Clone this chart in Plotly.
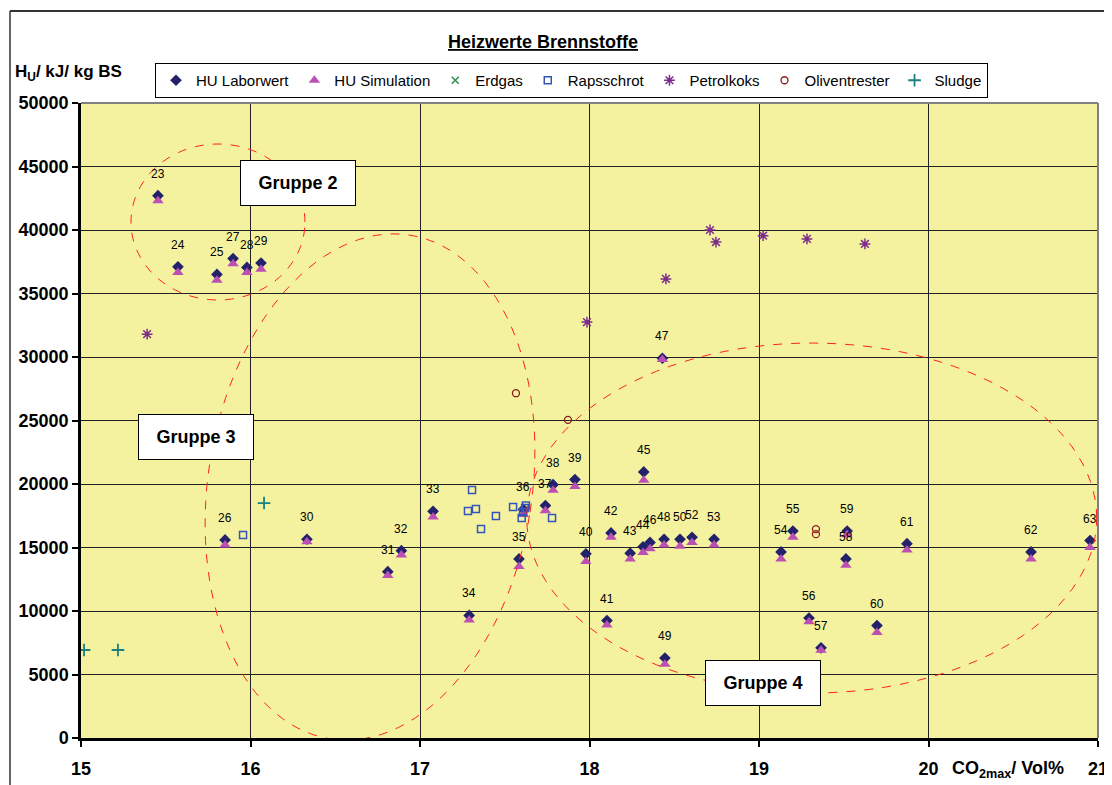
import numpy as np
import plotly.graph_objects as go

# ---------------- data ----------------
labels = ["23", "24", "25", "26", "27", "28", "29", "30", "31", "32", "33", "34", "35", "36",
          "37", "38", "39", "40", "41", "42", "43", "44", "45", "46", "47", "48", "49", "50",
          "52", "53", "54", "55", "56", "57", "58", "59", "60", "61", "62", "63"]
co2 = [15.454, 15.572, 15.802, 15.85, 15.897, 15.979, 16.062, 16.333, 16.81, 16.89, 17.077, 17.29,
       17.584, 17.61, 17.74, 17.785, 17.914, 17.979, 18.103, 18.127, 18.24, 18.316, 18.32, 18.357,
       18.43, 18.44, 18.445, 18.534, 18.605, 18.735, 19.13, 19.2, 19.295, 19.366, 19.513, 19.52,
       19.696, 19.873, 20.605, 20.953]
hu_labor = [42700, 37100, 36500, 15600, 37750, 37050, 37400, 15650, 13100, 14750, 17850, 9650,
            14100, 18000, 18300, 19950, 20350, 14500, 9250, 16150, 14550, 15050, 20950, 15400,
            29900, 15650, 6300, 15650, 15800, 15650, 14650, 16300, 9450, 7100, 14100, 16300,
            8850, 15300, 14650, 15550]
hu_sim = [42300, 36650, 36050, 15200, 37350, 36650, 36900, 15450, 12800, 14400, 17400, 9300,
          13500, 17600, 17900, 19500, 19800, 13900, 8900, 15800, 14100, 14600, 20300, 14900,
          29800, 15200, 5800, 15100, 15400, 15200, 14100, 15800, 9150, 6900, 13600, 16000,
          8300, 14800, 14100, 15000]

erdgas_x, erdgas_y = [None], [None]
raps_x = [15.956, 17.283, 17.307, 17.33, 17.36, 17.448, 17.549, 17.60, 17.608, 17.62, 17.625, 17.779]
raps_y = [15980, 17870, 19530, 18030, 16460, 17480, 18190, 17320, 17800, 18110, 18300, 17320]
petrol_x = [15.39, 17.985, 18.451, 18.711, 18.746, 19.024, 19.283, 19.625]
petrol_y = [31800, 32750, 36150, 40000, 39050, 39550, 39300, 38900]
oliv_x = [17.566, 17.873, 19.336, 19.336]
oliv_y = [27150, 25050, 16450, 16050]
sludge_x = [15.018, 15.218, 16.08]
sludge_y = [6930, 6930, 18500]

# groups: name, label position, ellipse centre (data), semi axes (px), rotation (deg)
groups = [
    ("Gruppe 2", (16.28, 43700), (15.808, 40630), (87, 78), 0),
    ("Gruppe 3", (15.678, 23700), (16.705, 19764), (162, 255), 9),
    ("Gruppe 4", (19.024, 4330), (19.311, 17320), (285, 175), 0),
]

# ---------------- layout geometry ----------------
OFF = 8                      # page offset of the figure (body margin)
W, H = 1112 - OFF, 785 - OFF
PL, PR, PT, PB = 81, 1098, 103, 738   # plot area in page pixels
ML, MT = PL - OFF, PT - OFF
MR = W - (PR - OFF)
MB = H - (PB - OFF)
X0, X1, Y0, Y1 = 15, 21, 0, 50000
PW, PH = PR - PL, PB - PT
PXU = PW / (X1 - X0)
PYU = PH / (Y1 - Y0)

FONT = "Liberation Sans, Arial, sans-serif"


def px2paper(px, py):
    return (px - PL) / PW, (PB - py) / PH


def ellipse_path(c, axes, rot):
    cx, cy = c
    bx, by = axes
    th = np.deg2rad(rot)
    t = np.linspace(0, 2 * np.pi, 121)
    ex = bx * np.cos(t)
    ey = by * np.sin(t)
    rx = ex * np.cos(th) + ey * np.sin(th)
    ry = -ex * np.sin(th) + ey * np.cos(th)
    xs = cx + rx / PXU
    ys = cy + ry / PYU
    pts = [f"{x:.5f},{y:.2f}" for x, y in zip(xs, ys)]
    return "M " + " L ".join(pts) + " Z"


fig = go.Figure()

fig.add_trace(go.Scatter(
    x=co2, y=hu_labor, mode="markers", name="HU Laborwert",
    marker=dict(symbol="diamond", size=9, color="#22226A"),
))
fig.add_trace(go.Scatter(
    x=co2, y=hu_sim, mode="markers", name="HU Simulation",
    marker=dict(symbol="triangle-up", size=10, color="#BC4FB4"),
))
fig.add_trace(go.Scatter(
    x=erdgas_x, y=erdgas_y, mode="markers", name="Erdgas",
    marker=dict(symbol="x-thin-open", size=7, color="#2E8B57", line=dict(width=1.5, color="#2E8B57")),
))
fig.add_trace(go.Scatter(
    x=raps_x, y=raps_y, mode="markers", name="Rapsschrot",
    marker=dict(symbol="square-open", size=7, color="#3355BB", line=dict(width=1.5)),
))
fig.add_trace(go.Scatter(
    x=petrol_x, y=petrol_y, mode="markers", name="Petrolkoks",
    marker=dict(symbol="asterisk-open", size=9, color="#7B2C8B", line=dict(width=1.5, color="#7B2C8B")),
))
fig.add_trace(go.Scatter(
    x=oliv_x, y=oliv_y, mode="markers", name="Oliventrester",
    marker=dict(symbol="circle-open", size=7, color="#8B1A1A", line=dict(width=1.3)),
))
fig.add_trace(go.Scatter(
    x=sludge_x, y=sludge_y, mode="markers", name="Sludge",
    marker=dict(symbol="cross-thin-open", size=9, color="#1A8080", line=dict(width=1.8, color="#1A8080")),
))

annotations = []
for lb, xv, yv in zip(labels, co2, hu_labor):
    annotations.append(dict(x=xv, y=yv, text=lb, showarrow=False, yshift=22,
                            font=dict(family=FONT, size=12, color="black")))

shapes = []
for name, lpos, c, axes, rot in groups:
    shapes.append(dict(type="path", path=ellipse_path(c, axes, rot), xref="x", yref="y",
                       line=dict(color="#FF2020", width=1, dash="dash"), layer="above"))
    annotations.append(dict(x=lpos[0], y=lpos[1], text=f"<b>{name}</b>", showarrow=False,
                            bgcolor="white", bordercolor="black", borderwidth=1,
                            width=112, height=42, borderpad=1,
                            font=dict(family=FONT, size=18, color="black")))

# title and axis titles
tx, ty = px2paper(543, 42)
annotations.append(dict(xref="paper", yref="paper", x=tx, y=ty, xanchor="center", yanchor="middle",
                        text="<b><u>Heizwerte Brennstoffe</u></b>",
                        showarrow=False, font=dict(family=FONT, size=18, color="black")))
yx, yy = px2paper(13, 73)
annotations.append(dict(xref="paper", yref="paper", x=yx, y=yy, xanchor="left", yanchor="middle",
                        text="<b>H<sub>U</sub>/ kJ/ kg BS</b>", showarrow=False,
                        font=dict(family=FONT, size=17, color="black")))
xx, xy = px2paper(950, 769)
annotations.append(dict(xref="paper", yref="paper", x=xx, y=xy, xanchor="left", yanchor="middle",
                        text="<b>CO<sub>2max</sub>/ Vol%</b>", showarrow=False,
                        font=dict(family=FONT, size=18, color="black")))

# plot frame (gray top/right) and chart frame
p_l, p_t = px2paper(10, 11)
p_r, _ = px2paper(1109, 11)
_, p_b = px2paper(10, 800)
shapes += [
    dict(type="line", xref="paper", yref="paper", x0=0, x1=1, y0=1, y1=1, line=dict(color="#808080", width=2)),
    dict(type="line", xref="paper", yref="paper", x0=1, x1=1, y0=0, y1=1, line=dict(color="#808080", width=2)),
    dict(type="line", xref="paper", yref="paper", x0=p_l, x1=p_r, y0=p_t, y1=p_t, line=dict(color="#333333", width=2)),
    dict(type="line", xref="paper", yref="paper", x0=p_l, x1=p_l, y0=p_b, y1=p_t, line=dict(color="#333333", width=1.5)),
    dict(type="line", xref="paper", yref="paper", x0=p_r, x1=p_r, y0=p_b, y1=p_t, line=dict(color="#999999", width=1.5)),
]

lgx, lgy = px2paper(155, 63)

fig.update_layout(
    width=W, height=H,
    margin=dict(l=ML, r=MR, t=MT, b=MB, autoexpand=False),
    paper_bgcolor="white",
    plot_bgcolor="#F5F29F",
    font=dict(family=FONT, color="black"),
    showlegend=True,
    legend=dict(orientation="h", x=lgx, y=lgy, xanchor="left", yanchor="top",
                bgcolor="white", bordercolor="black", borderwidth=1,
                font=dict(family=FONT, size=15, color="black"),
                itemwidth=30, tracegroupgap=0),
    xaxis=dict(range=[X0, X1], dtick=1, tick0=15, showgrid=True, gridcolor="#222222", gridwidth=1,
               showline=True, linecolor="black", linewidth=2.5, ticks="outside", ticklen=6,
               tickwidth=2, tickcolor="black", zeroline=False, ticklabelstandoff=7,
               tickfont=dict(family=FONT, size=18, color="black", weight="bold")),
    yaxis=dict(range=[Y0, Y1], dtick=5000, showgrid=True, gridcolor="#222222", gridwidth=1,
               showline=True, linecolor="black", linewidth=2.5, ticks="outside", ticklen=6,
               tickwidth=2, tickcolor="black", zeroline=False, tickformat="d",
               tickfont=dict(family=FONT, size=18, color="black", weight="bold")),
    annotations=annotations,
    shapes=shapes,
)

fig.write_html("out.html")
